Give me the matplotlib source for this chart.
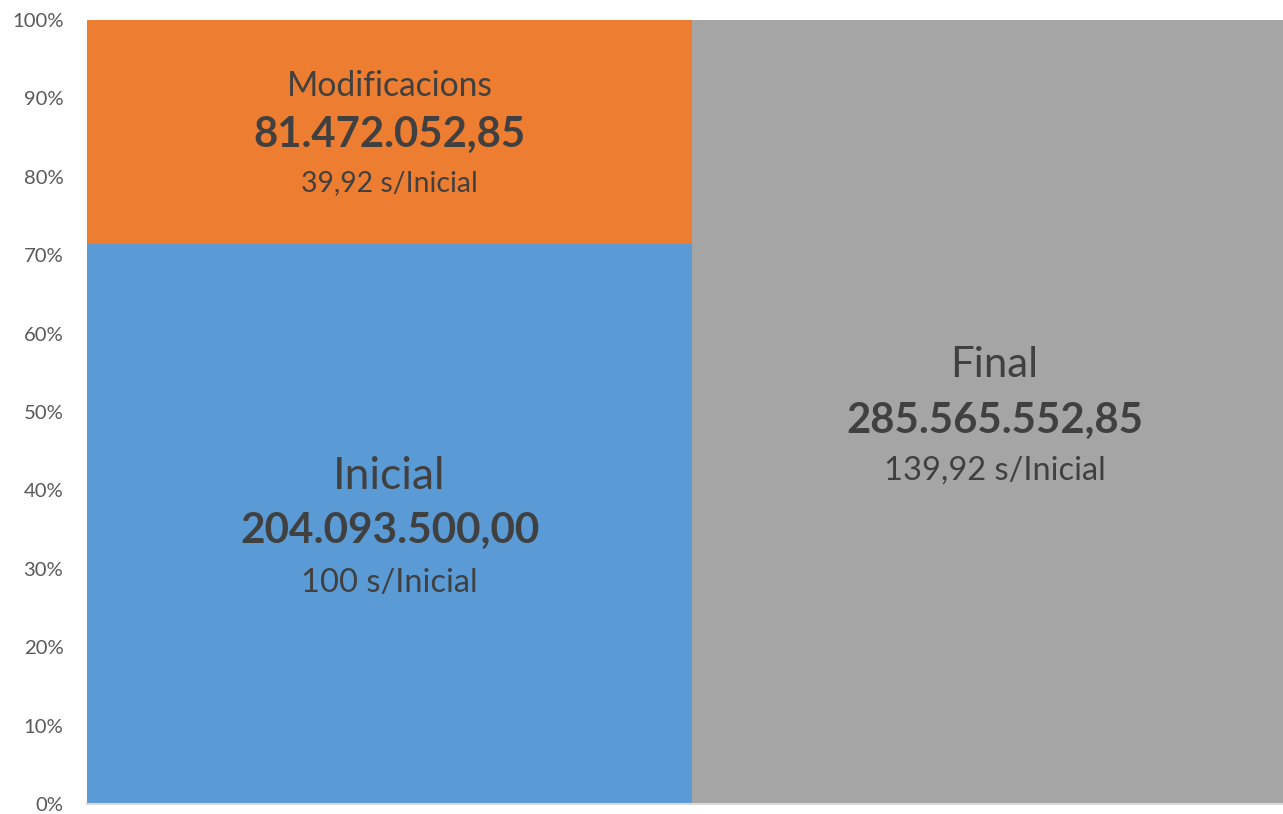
import numpy as np
import matplotlib.pyplot as plt

# values in euros
inicial = 204093500.00
modificacions = 81472052.85
final = 285565552.85

bar_pos = [0, 1]
bottom_vals = [inicial / final * 100, 100.0]   # Inicial | Final
top_vals = [modificacions / final * 100, 0.0]  # Modificacions on top of Inicial

labels = ['Inicial', 'Modificacions', 'Final']
value_txt = ['204.093.500,00', '81.472.052,85', '285.565.552,85']
ratio_txt = ['100 s/Inicial', '39,92 s/Inicial', '139,92 s/Inicial']

c_blue = '#5B9BD5'
c_orange = '#ED7D31'
c_gray = '#A5A5A5'
txt_col = '#404040'

plt.rcParams['font.family'] = ['Lato', 'DejaVu Sans']

fig = plt.figure(figsize=(12.83, 8.14), dpi=100)
# axes run a bit past the right edge, like the cropped original
ax = fig.add_axes([87 / 1283, (814 - 804) / 814, 1210 / 1283, 784 / 814])

ax.bar(bar_pos, bottom_vals, width=1.0, color=[c_blue, c_gray], align='edge')
ax.bar(bar_pos[0], top_vals[0], bottom=bottom_vals[0], width=1.0, color=c_orange, align='edge')

ax.set_xlim(0, 2)
ax.set_ylim(0, 100)
ax.set_yticks(np.arange(0, 101, 10))
ax.set_yticklabels([f'{v}%' for v in range(0, 101, 10)])
ax.tick_params(axis='y', length=0, pad=17, labelsize=14.6, labelcolor='#595959')
ax.tick_params(axis='x', length=0, labelbottom=False)
for s in ['top', 'right', 'left']:
    ax.spines[s].set_visible(False)
ax.spines['bottom'].set_color('#D9D9D9')
ax.spines['bottom'].set_linewidth(1.5)


def block(x, yc, lab, val, rat, sizes, offs):
    # three lines: name, amount (bold), ratio; offsets in px from segment centre
    for t, fs, fw, off in zip([lab, val, rat], sizes, ['normal', 'bold', 'normal'], offs):
        ax.annotate(t, xy=(x, yc), xytext=(0, -off * 0.72), textcoords='offset points',
                    ha='center', va='center', fontsize=fs, fontweight=fw, color=txt_col)


block(0.5, bottom_vals[0] / 2, labels[0], value_txt[0], ratio_txt[0], (32, 30.4, 23.5), (-47, 7, 59))
block(0.5, bottom_vals[0] + top_vals[0] / 2, labels[1], value_txt[1], ratio_txt[1], (24.2, 30.2, 20.4), (-46, 3, 51))
block(1.5, 50, labels[2], value_txt[2], ratio_txt[2], (30.2, 30.2, 23.5), (-47, 9, 59))

fig.savefig('out.png', dpi=100)
